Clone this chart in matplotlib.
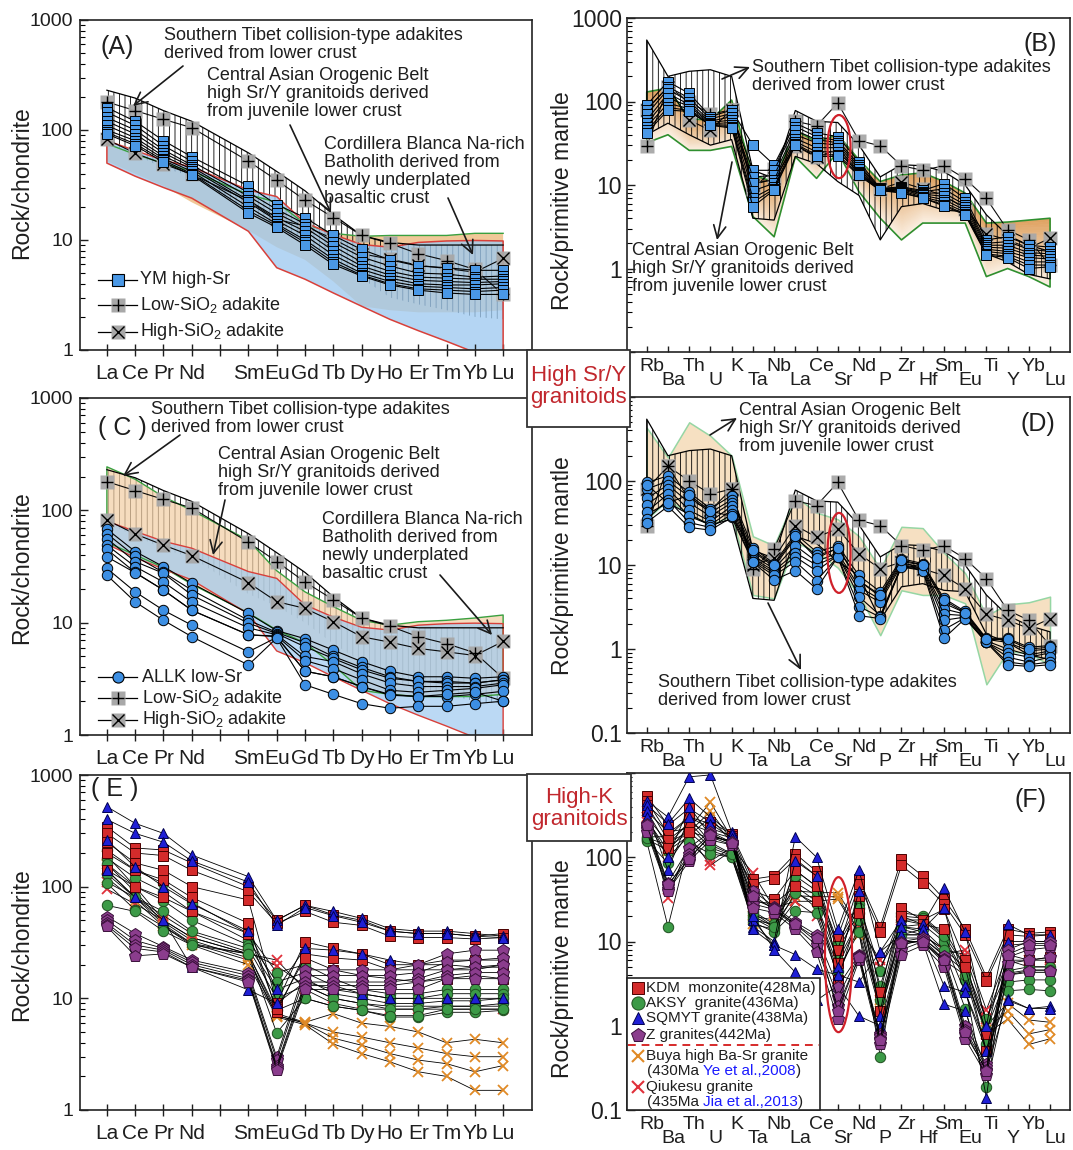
import numpy as np
import matplotlib
matplotlib.use("Agg")
import matplotlib.pyplot as plt
from matplotlib.lines import Line2D
from matplotlib.patches import Ellipse, Rectangle, FancyArrowPatch
from matplotlib.ticker import FixedLocator, FixedFormatter, LogLocator, NullFormatter
from matplotlib.transforms import ScaledTranslation

plt.rcParams['font.family'] = ['Liberation Sans', 'DejaVu Sans']
plt.rcParams['mathtext.fontset'] = 'custom'
plt.rcParams['mathtext.rm'] = 'Liberation Sans'
plt.rcParams['mathtext.it'] = 'Liberation Sans:italic'
plt.rcParams['hatch.linewidth'] = 0.6

# ------------------------------------------------------------------ elements
ree_ticks = ['La', 'Ce', 'Pr', 'Nd', '', 'Sm', 'Eu', 'Gd', 'Tb', 'Dy', 'Ho', 'Er', 'Tm', 'Yb', 'Lu']
ree_elements = [e for e in ree_ticks if e]
spider_elements = ['Rb', 'Ba', 'Th', 'U', 'K', 'Ta', 'Nb', 'La', 'Ce', 'Sr',
                   'Nd', 'P', 'Zr', 'Hf', 'Sm', 'Eu', 'Ti', 'Y', 'Yb', 'Lu']

# ------------------------------------------------ reference fields (REE, chondrite)
st_ree_upper = [230, 195, 150, 120, 62, 42, 28, 17, 11, 9.5, 9.0, 9.0, 9.0, 9.0]
st_ree_lower = [75, 60, 45, 38, 18, 14, 10, 6.5, 4.5, 3.0, 2.6, 2.3, 2.0, 1.9]
cb_ree_upper = [80, 65, 53, 46, 28.5, 24.8, 14.4, 11.2, 9.1, 8.6, 9.5, 9.8, 9.9, 9.8]
cb_ree_lower = [50, 38, 30, 24, 12, 5.6, 4.4, 3.3, 2.5, 1.9, 1.5, 1.2, 0.95, 0.8]
caob_ree_upper_a = [75, 60, 50, 42, 26, 22, 14, 11.5, 10.8, 11, 11, 11, 11.5, 11.5]
caob_ree_upper_c = [244, 189, 132, 100, 54, 29, 18.8, 13.9, 10.5, 9.5, 10.2, 10.5, 11, 11.7]
caob_ree_lower = [52, 40, 31, 22, 12.2, 8.6, 6.6, 4.2, 2.5, 2.3, 2.2, 2.2, 2.2, 2.3]

# ------------------------------------------ reference fields (primitive mantle)
st_pm_upper = [545, 200, 230, 240, 200, 15, 12, 78, 58, 56, 30, 12.5, 17.5, 17, 14.5, 10, 4.4, 2.5, 1.9, 1.6]
st_pm_lower = [40, 55, 40, 30, 35, 4.0, 3.8, 22, 18, 11, 7.5, 2.2, 5.5, 6.0, 5.0, 4.8, 1.5, 1.2, 0.85, 0.75]
caob_pm_upper_b = [130, 145, 62, 60, 104, 13, 11, 45, 33, 40, 20, 11, 13.2, 14, 11, 8, 3.5, 3.6, 3.8, 4.0]
caob_pm_lower_b = [32, 40, 26, 26, 29, 4.2, 2.4, 21.8, 12, 25, 8.3, 4.0, 2.2, 3.5, 3.5, 3.5, 0.8, 1.0, 0.8, 0.6]
caob_pm_upper_d = [430, 190, 500, 345, 200, 22, 17, 66, 42, 35, 22, 9, 28.5, 27.5, 14, 8, 2.5, 3.4, 3.6, 4.2]
caob_pm_lower_d = [35, 60, 40, 30, 39, 4.4, 4.0, 18.7, 14.3, 9.3, 4.4, 1.46, 5, 4.4, 4.4, 3.5, 0.38, 0.93, 0.9, 0.64]

# ------------------------------------------------------------ adakite averages
low_sio2_ree = [180, 150, 125, 105, 52, 35, 23, 16, 11, 9.3, 7.5, 6.5, 5.4, 3.2]
high_sio2_ree = [82, 61.5, 49, 39.5, 22.7, 15.4, 13.4, 10.2, 7.5, 6.7, 5.9, 5.5, 5.1, 6.8]
low_sio2_pm = [29, 150, 100, 70, 80, 9, 15.6, 58, 51, 96, 34, 29.5, 17, 15, 17, 11.9, 6.9, 2.9, 2.2, 1.1]
high_sio2_pm = [80, 150, 60, 45, 80, 10, 12, 29.5, 21.5, 27, 13.6, 9, 10.8, 9, 7.5, 5.2, 2.6, 2.2, 1.76, 2.3]

# --------------------------------------------------------------- YM high-Sr
ym_ree = [
    [160, 120, 80, 57, 31, 21, 16, 11, 8.2, 6.6, 5.8, 5.6, 5.3, 5.3],
    [145, 110, 72, 52, 27, 19, 14, 9.5, 7.0, 5.8, 5.0, 4.9, 4.6, 4.7],
    [130, 100, 66, 48, 25, 17.5, 13, 8.8, 6.3, 5.2, 4.6, 4.5, 4.4, 4.4],
    [120, 92, 62, 46, 23, 16, 12, 8.0, 5.8, 4.8, 4.3, 4.2, 4.1, 4.2],
    [110, 85, 58, 44, 22, 15, 11, 7.3, 5.4, 4.5, 4.0, 3.9, 3.9, 4.0],
    [100, 80, 55, 42, 20, 14, 10, 6.7, 5.0, 4.2, 3.8, 3.7, 3.6, 3.7],
    [95, 75, 53, 40, 18.5, 13.5, 9.5, 6.3, 4.8, 4.0, 3.6, 3.5, 3.4, 3.5],
    [92, 72, 51, 39, 17.6, 13, 9.0, 6.0, 4.7, 3.9, 3.5, 3.3, 3.2, 3.2],
]
ym_pm = [
    [91, 173, 125, 66, 79, 30, 17.4, 55, 42, 38, 19, 9.1, 9.5, 8.6, 10.4, 6.9, 2.2, 2.4, 1.9, 1.8],
    [80, 150, 110, 62, 72, 15, 15, 50, 38, 34, 17.5, 9.0, 9.3, 8.3, 9.0, 6.3, 2.0, 2.1, 1.7, 1.6],
    [70, 140, 100, 58, 66, 12.5, 13, 45, 35, 32, 16.5, 8.9, 9.1, 8.0, 8.0, 5.8, 1.9, 1.9, 1.55, 1.5],
    [60, 125, 92, 56, 60, 10.5, 11.5, 40, 32, 30, 15.5, 8.8, 9.0, 7.8, 7.3, 5.4, 1.8, 1.75, 1.45, 1.4],
    [55, 110, 88, 54, 56, 8.5, 10.5, 36, 28, 28, 14.5, 8.8, 8.8, 7.5, 6.7, 5.0, 1.7, 1.6, 1.35, 1.3],
    [50, 95, 82, 53, 52, 7.0, 9.5, 33, 25, 25, 14, 8.7, 8.5, 7.2, 6.2, 4.7, 1.6, 1.5, 1.2, 1.2],
    [45, 85, 78, 52, 50, 6.2, 9.0, 31, 23, 23, 13.5, 8.6, 8.2, 7.0, 5.8, 4.5, 1.5, 1.4, 1.1, 1.1],
    [42, 79, 76, 52, 48, 5.5, 8.7, 30, 22, 22, 13, 8.6, 8.0, 7.0, 5.6, 4.4, 1.45, 1.35, 1.0, 1.05],
]

# --------------------------------------------------------------- ALLK low-Sr
allk_ree = [
    [68, 43, 31.5, 22.4, 12.1, 8.5, 7.2, 5.7, 4.5, 3.7, 3.3, 3.3, 3.2, 3.3],
    [62, 39, 28, 19.5, 10.5, 8.2, 6.6, 5.0, 4.0, 3.3, 3.0, 3.0, 2.9, 3.1],
    [56, 35, 27.5, 17.6, 9.9, 8.0, 6.1, 4.8, 3.8, 3.2, 3.0, 2.9, 2.9, 3.1],
    [49, 31.5, 23, 15.3, 9.0, 7.8, 5.0, 4.5, 3.5, 2.9, 2.7, 2.7, 2.7, 2.9],
    [45, 28, 19.5, 12.9, 7.8, 7.6, 4.6, 3.9, 3.1, 2.5, 2.4, 2.5, 2.6, 2.8],
    [38.6, 27.8, 19.5, 12.9, 7.8, 7.5, 3.7, 3.3, 2.7, 2.3, 2.2, 2.2, 2.3, 2.45],
    [30.4, 18.8, 12.9, 9.5, 5.5, 7.4, 3.7, 3.3, 2.7, 2.26, 2.2, 2.3, 2.4, 2.0],
    [26.5, 15.3, 10.5, 7.5, 4.2, 7.3, 2.8, 2.3, 1.9, 1.73, 1.8, 1.8, 1.9, 2.0],
]
allk_pm = [
    [96, 115, 73, 47, 67, 16, 10.4, 23.5, 14.3, 17, 7.5, 4.8, 11.9, 10.4, 4.0, 2.8, 1.34, 1.34, 1.05, 1.1],
    [80, 100, 65, 42, 60, 14.5, 9.5, 21, 13, 15.5, 6.5, 4.2, 11, 10, 3.5, 2.7, 1.3, 1.2, 0.95, 1.0],
    [62, 90, 55, 38, 55, 13, 9, 17, 11, 14, 5.5, 3.9, 10.5, 9.5, 3.0, 2.6, 1.25, 1.0, 0.85, 0.95],
    [52, 80, 45, 33, 50, 12, 8.5, 14, 10, 13, 5.0, 3.6, 10, 9.2, 2.6, 2.5, 1.2, 0.9, 0.8, 0.9],
    [43, 70, 38, 30, 45, 11.5, 8, 12.5, 8.5, 13, 4.2, 2.5, 9.8, 9, 2.2, 2.4, 1.2, 0.8, 0.7, 0.8],
    [35, 60, 32, 28, 40, 11, 7.5, 11, 6.5, 12.5, 3.2, 2.4, 9.6, 8.8, 1.7, 2.35, 1.2, 0.7, 0.65, 0.7],
    [32, 50, 28, 26, 37, 10.8, 6.6, 8.6, 5.2, 12.5, 2.5, 2.3, 9.5, 8.6, 1.34, 2.3, 1.2, 0.65, 0.62, 0.65],
    [90, 55, 68, 44, 38, 15, 10, 22, 12, 16, 6.5, 4.4, 11.5, 10, 3.8, 2.7, 1.3, 1.3, 1.0, 1.05],
]

# ------------------------------------------------------ high-K granitoids, REE
kdm_ree = [
    [344, 222, 213, 163, 100, 50, 68, 56, 50, 40, 38, 38, 36, 38],
    [300, 200, 190, 140, 90, 47, 60, 48, 45, 36, 35, 35, 34, 35],
    [250, 163, 140, 100, 76, 9, 32, 28, 25, 20, 20, 22, 22, 22],
    [200, 140, 115, 80, 47, 7.5, 25, 23, 22, 18, 18, 18, 18, 20],
    [141, 100, 80, 60, 38, 8, 23, 18, 16, 15, 14, 15, 16, 15],
]
aksy_ree = [
    [213, 141, 107, 72, 38, 17, 20, 15, 12, 11, 11, 12, 12, 12],
    [180, 120, 90, 60, 33, 14, 17, 13, 11, 10, 10, 11, 11, 11],
    [160, 100, 75, 50, 30, 12, 15, 11, 10, 9, 9, 9.5, 9.5, 10],
    [130, 80, 60, 40, 28, 10, 13, 10, 9, 8, 8, 8.5, 8.5, 9],
    [107, 62, 44, 31, 25, 7.8, 10, 8.5, 7.8, 6.8, 6.8, 7.5, 7.5, 7.8],
    [68, 60, 40, 30, 25, 4.9, 10, 8.5, 7.8, 7, 7, 8, 8, 8],
]
sqmyt_ree = [
    [520, 369, 300, 192, 123, 50, 68, 60, 52, 42, 40, 40, 38, 36],
    [400, 300, 250, 170, 110, 45, 65, 55, 48, 40, 38, 38, 36, 35],
    [262, 150, 100, 70, 40, 12, 28, 27, 25, 22, 20, 20, 19, 19],
    [141, 80, 50, 19, 11.9, 9, 14, 12, 11, 10, 10, 10, 10, 10],
]
zgr_ree = [
    [54, 38, 29, 22, 17, 3.0, 18, 18, 18, 18, 20, 25, 27, 27],
    [50, 33, 28, 21, 16, 2.8, 16, 16, 16, 16, 17, 21, 22, 23],
    [47, 30, 27, 20, 15, 2.5, 14, 14, 14, 14, 15, 18, 19, 20],
    [45, 28, 26, 19, 14.5, 2.4, 13, 13, 13, 13, 14, 16, 17, 17],
    [44, 24, 25, 19, 14, 2.3, 12, 12, 12, 12, 12, 15, 15, 15],
]
buya_ree = [
    [190, 100, 50, 35, 25, 7.3, 6.1, 7.3, 6.0, 5.6, 5.0, 4.0, 4.3, 4.0],
    [160, 90, 48, 33, 23, 7.0, 6.0, 5.0, 4.5, 4.0, 3.6, 3.2, 3.0, 3.0],
    [140, 80, 46, 31, 22, 7.0, 6.0, 4.4, 3.8, 3.2, 2.8, 2.6, 2.2, 2.5],
    [120, 75, 44, 30, 20, 6.8, 5.8, 3.9, 3.2, 2.7, 2.2, 2.0, 1.5, 1.5],
]
qiukesu_ree = [
    [95, 70, 50, 35, 25, 22, 12, 9, 8, 8, 8, 8, 8, 8],
    [110, 80, 55, 38, 26, 19.5, 13, 10, 9, 8.5, 8.5, 8.5, 8.5, 8.5],
]

# ------------------------------------------ high-K granitoids, primitive mantle
kdm_pm = [
    [540, 240, 380, 260, 190, 55, 60, 110, 68, 11.5, 55, 15, 95, 60, 32, 14, 3.8, 14, 12.5, 13],
    [470, 190, 300, 220, 180, 48, 55, 95, 60, 8, 48, 13, 80, 50, 28, 12, 3.4, 12, 11.5, 12],
    [420, 160, 250, 200, 170, 40, 32, 70, 45, 5.5, 35, 2.5, 25, 18, 24, 6, 0.8, 9, 9.5, 9.5],
    [360, 130, 200, 170, 160, 30, 28, 45, 30, 3.5, 22, 1.5, 20, 16, 14, 5, 0.5, 6, 6, 6.5],
]
aksy_pm = [
    [175, 175, 300, 150, 110, 23, 16, 70, 45, 10, 28, 4.5, 22, 20, 12, 5, 1.2, 4.5, 5, 5],
    [165, 120, 230, 130, 105, 20, 15, 50, 35, 8, 22, 3, 18, 18, 11, 3.5, 0.9, 4, 4.3, 4.3],
    [160, 85, 200, 120, 100, 19, 14, 38, 28, 6, 18, 1.5, 15, 16, 10, 2.5, 0.6, 3.3, 3.5, 3.5],
    [155, 15, 150, 110, 100, 17, 13, 23, 22, 4.5, 13, 0.43, 12, 14, 8, 1.6, 0.19, 2.6, 2.7, 2.6],
    [170, 140, 260, 140, 108, 22, 15, 60, 40, 9, 25, 2, 20, 19, 11.5, 4, 0.5, 4.2, 4.6, 4.6],
]
sqmyt_pm = [
    [470, 300, 900, 950, 200, 15, 10, 175, 100, 14, 70, 7.6, 18, 16, 43, 13, 1.0, 16, 12, 12],
    [420, 250, 500, 300, 190, 18, 9, 90, 60, 5, 40, 1.3, 15, 14, 25, 3, 0.14, 10, 10, 10],
    [350, 70, 300, 250, 170, 14, 9, 7, 4.7, 4, 3.3, 7.6, 12, 12, 3, 2.5, 0.5, 2.1, 1.6, 1.7],
    [300, 100, 400, 180, 150, 20, 8, 4.3, 2.0, 3, 1.3, 1.0, 10, 10, 1.8, 1.5, 0.3, 2.0, 1.6, 1.6],
]
zgr_pm = [
    [250, 50, 130, 200, 150, 40, 26, 17, 12, 2.9, 7, 0.8, 10, 11, 6.8, 1.0, 0.35, 8, 10, 10],
    [230, 45, 110, 190, 145, 32, 25, 16, 10, 2.2, 6.8, 0.75, 9, 10.5, 6.2, 0.9, 0.32, 6.5, 8, 8.5],
    [215, 42, 100, 175, 140, 28, 24, 15, 9, 1.7, 6.5, 0.7, 8, 10, 5.6, 0.8, 0.3, 5.5, 6, 6.5],
    [200, 40, 90, 160, 140, 25, 22, 14, 7.5, 1.2, 6.0, 0.6, 7, 9, 5, 0.7, 0.26, 4, 4.5, 4.5],
    [240, 48, 95, 185, 148, 35, 24, 16, 11, 1.5, 6.6, 0.68, 9.5, 10, 6, 0.85, 0.29, 7, 9, 9],
]
buya_pm = [
    [350, 200, 220, 450, 170, 20, 18, 40, 38, 38, 15, 2, 12, 12, 8, 5, 1.0, 1.85, 1.17, 1.1],
    [300, 150, 200, 350, 160, 18, 16, 35, 34, 34, 13, 1.8, 11, 11, 7, 4.5, 0.9, 1.5, 0.8, 0.9],
    [280, 120, 180, 300, 150, 16, 14, 30, 30, 32, 12, 1.5, 10, 10, 6, 4, 0.8, 1.2, 0.6, 0.7],
]
qiukesu_pm = [
    [300, 33, 150, 90, 130, 65, 25, 30, 20, 4, 15, 6, 15, 13, 7, 8, 1.55, 7, 6, 6],
    [260, 100, 180, 80, 120, 50, 22, 40, 25, 5, 18, 5, 14, 12, 8, 7, 1.2, 6, 5, 5],
]

# ------------------------------------------------------------------- styling
W, H = 1073, 1150
BLUE_SQ = '#4a98e6'
BLUE_CI = '#3d8fe3'
GRAY = '#a8a8a8'
TAN = '#f0c898'
LBLUE = '#9fcaf0'
RED_LINE = '#d8403a'
GREEN_LINE = '#3aa040'
TXT = '#1e1e1e'

fig = plt.figure(figsize=(W / 100, H / 100), dpi=100)


def fx(x):
    return x / W


def fy(y):
    return 1 - y / H


def rect(l, t, r, b):
    return [l / W, 1 - b / H, (r - l) / W, (b - t) / H]


axA = fig.add_axes(rect(80, 20, 532, 350))
axB = fig.add_axes(rect(627, 18, 1070, 352))
axC = fig.add_axes(rect(80, 398, 532, 735))
axD = fig.add_axes(rect(627, 397, 1070, 733))
axE = fig.add_axes(rect(80, 775, 532, 1110))
axF = fig.add_axes(rect(627, 773, 1070, 1110))

ree_x = [ree_ticks.index(e) for e in ree_elements]
pm_x = list(range(len(spider_elements)))


def log_yaxis(ax, lo, hi, size, pad, hidden=()):
    ax.set_yscale('log')
    ax.set_ylim(lo, hi)
    majors = [v for v in [0.1, 1, 10, 100, 1000] if lo <= v <= hi]
    ax.yaxis.set_major_locator(FixedLocator(majors))
    ax.yaxis.set_major_formatter(FixedFormatter(['' if v in hidden else f'{v:g}' for v in majors]))
    ax.yaxis.set_minor_locator(LogLocator(base=10, subs=np.arange(2, 10), numticks=20))
    ax.yaxis.set_minor_formatter(NullFormatter())
    ax.tick_params(axis='y', which='major', direction='in', length=6, width=1,
                   pad=pad, labelsize=size, colors=TXT)
    ax.tick_params(axis='y', which='minor', direction='in', length=3.5, width=0.8)
    for sp in ax.spines.values():
        sp.set_linewidth(1.2)
        sp.set_color('#222222')


def style_ree(ax):
    log_yaxis(ax, 1, 1000, 14, 5)
    ax.set_xlim(-0.95, 15.02)
    ax.set_xticks(range(len(ree_ticks)))
    ax.set_xticklabels(ree_ticks)
    ax.tick_params(axis='x', direction='inout', length=8, width=1, pad=6,
                   labelsize=15, colors=TXT)


def style_spider(ax, hidden=()):
    log_yaxis(ax, 0.1, 1000, 16.5, 3.5, hidden)
    ax.set_xlim(-0.93, 19.94)
    ax.set_xticks(pm_x[0::2])
    ax.set_xticklabels(spider_elements[0::2])
    ax.set_xticks(pm_x[1::2], minor=True)
    ax.set_xticklabels(spider_elements[1::2], minor=True)
    ax.tick_params(axis='x', which='major', direction='in', length=4, width=1,
                   pad=4, labelsize=14, colors=TXT)
    ax.tick_params(axis='x', which='minor', direction='in', length=4, width=1,
                   pad=14.5, labelsize=14, colors=TXT)
    shift = ScaledTranslation(5 / 100, 0, fig.dpi_scale_trans)
    for lab in ax.get_xticklabels(which='both'):
        lab.set_transform(lab.get_transform() + shift)


def gradient_field(ax, x, lo, hi, c_lo, c_hi, n=24, z=1):
    lo = np.log10(lo)
    hi = np.log10(hi)
    c_lo = np.array(matplotlib.colors.to_rgb(c_lo))
    c_hi = np.array(matplotlib.colors.to_rgb(c_hi))
    for k in range(n):
        t0, t1 = k / n, (k + 1) / n
        tm = (t0 + t1) / 2
        col = c_lo * (1 - tm) + c_hi * tm
        ax.fill_between(x, 10 ** (lo + (hi - lo) * t0), 10 ** (lo + (hi - lo) * t1),
                        facecolor=col, edgecolor=col, lw=0.4, zorder=z)


def adakites(ax, x, low, high):
    for vals, sym in ((low, '+'), (high, 'x')):
        ax.plot(x, vals, color='k', lw=0.8, marker='s', ms=10.5, mfc=GRAY,
                mec='none', alpha=0.95, zorder=4)
        ax.plot(x, vals, ls='none', marker=sym, ms=8.5, mec='k', mew=1.0, zorder=4.1)


def samples(ax, x, rows, marker, ms, fc, ec='k', mew=0.7, lw=0.6, z=5):
    for r in rows:
        ax.plot(x, r, color='k', lw=lw, marker=marker, ms=ms, mfc=fc, mec=ec,
                mew=mew, zorder=z)


def cross_samples(ax, x, rows, color, ms=7, z=5):
    for r in rows:
        ax.plot(x, r, color='k', lw=0.6, marker='x', ms=ms, mec=color, mew=1.3, zorder=z)


# ------------------------------------------------------------------ panel A
axA.fill_between(ree_x, caob_ree_lower, caob_ree_upper_a, facecolor=TAN,
                 edgecolor='none', zorder=1)
axA.fill_between(ree_x, st_ree_lower, st_ree_upper, facecolor='none', edgecolor='k',
                 hatch='|||', lw=0, zorder=1.2)
axA.fill_between(ree_x, cb_ree_lower, cb_ree_upper, facecolor=LBLUE, alpha=0.78,
                 edgecolor='none', zorder=1.4)
axA.plot(ree_x, caob_ree_upper_a, color=GREEN_LINE, lw=1.0, zorder=1.5)
axA.fill_between(ree_x, cb_ree_lower, cb_ree_upper, facecolor='none',
                 edgecolor=RED_LINE, lw=1.1, zorder=1.6)
axA.plot(ree_x, st_ree_upper, color='k', lw=0.9, zorder=1.7)
adakites(axA, ree_x, low_sio2_ree, high_sio2_ree)
samples(axA, ree_x, ym_ree, 's', 7.5, BLUE_SQ, lw=0.8)
style_ree(axA)

# ------------------------------------------------------------------ panel C
axC.fill_between(ree_x, st_ree_lower, st_ree_upper, facecolor='none', edgecolor='k',
                 hatch='|||', lw=0, zorder=1)
axC.fill_between(ree_x, caob_ree_lower, caob_ree_upper_c, facecolor='#f3cfa5',
                 alpha=0.72, edgecolor='none', zorder=1.2)
axC.fill_between(ree_x, cb_ree_lower, cb_ree_upper, facecolor=LBLUE, alpha=0.7,
                 edgecolor='none', zorder=1.4)
axC.fill_between(ree_x, caob_ree_lower, caob_ree_upper_c, facecolor='none',
                 edgecolor=GREEN_LINE, lw=1.0, zorder=1.5)
axC.fill_between(ree_x, cb_ree_lower, cb_ree_upper, facecolor='none',
                 edgecolor=RED_LINE, lw=1.0, zorder=1.6)
axC.plot(ree_x, st_ree_upper, color='k', lw=0.9, zorder=1.7)
adakites(axC, ree_x, low_sio2_ree, high_sio2_ree)
samples(axC, ree_x, allk_ree, 'o', 7.5, BLUE_CI, lw=0.8)
style_ree(axC)

# ------------------------------------------------------------------ panel E
cross_samples(axE, ree_x, buya_ree, '#e08a26')
cross_samples(axE, ree_x, qiukesu_ree, '#e0303a')
samples(axE, ree_x, aksy_ree, 'o', 7.5, '#3c9a47', ec='#1f4f1f')
samples(axE, ree_x, kdm_ree, 's', 7.5, '#d42b2b', ec='#4a0000')
samples(axE, ree_x, sqmyt_ree, '^', 6.5, '#1f1fd6', ec='#000050')
samples(axE, ree_x, zgr_ree, 'p', 9, '#8b3d8d', ec='#3a103a')
style_ree(axE)

# ------------------------------------------------------------------ panel B
gradient_field(axB, pm_x, caob_pm_lower_b, caob_pm_upper_b, '#fcf2e6', '#dfa261', z=1)
axB.fill_between(pm_x, caob_pm_lower_b, caob_pm_upper_b, facecolor='none',
                 edgecolor='#2f8f2f', lw=1.2, zorder=1.3)
axB.fill_between(pm_x, st_pm_lower, st_pm_upper, facecolor='none', edgecolor='k',
                 hatch='|||', lw=0.9, zorder=1.5)
adakites(axB, pm_x, low_sio2_pm, high_sio2_pm)
samples(axB, pm_x, ym_pm, 's', 7.5, BLUE_SQ, lw=0.8)
style_spider(axB, hidden=(0.1,))
axB.add_patch(Ellipse((0.4786, 0.615), 0.052, 0.189, transform=axB.transAxes,
                      facecolor='none', edgecolor='#d0202a', lw=1.6, zorder=6))

# ------------------------------------------------------------------ panel D
axD.fill_between(pm_x, caob_pm_lower_d, caob_pm_upper_d, facecolor='#f6e0c2',
                 edgecolor='#96d6a4', lw=1.1, zorder=1)
axD.fill_between(pm_x, st_pm_lower, st_pm_upper, facecolor='none', edgecolor='k',
                 hatch='|||', lw=0.9, zorder=1.5)
adakites(axD, pm_x, low_sio2_pm, high_sio2_pm)
samples(axD, pm_x, allk_pm, 'o', 7.5, BLUE_CI, lw=0.8)
style_spider(axD, hidden=(1000,))
axD.add_patch(Ellipse((0.4786, 0.536), 0.052, 0.238, transform=axD.transAxes,
                      facecolor='none', edgecolor='#d0202a', lw=1.6, zorder=6))

# ------------------------------------------------------------------ panel F
cross_samples(axF, pm_x, buya_pm, '#e08a26')
cross_samples(axF, pm_x, qiukesu_pm, '#e0303a')
samples(axF, pm_x, aksy_pm, 'o', 7.5, '#3c9a47', ec='#1f4f1f')
samples(axF, pm_x, kdm_pm, 's', 7.5, '#d42b2b', ec='#4a0000')
samples(axF, pm_x, sqmyt_pm, '^', 6.5, '#1f1fd6', ec='#000050')
samples(axF, pm_x, zgr_pm, 'p', 9, '#8b3d8d', ec='#3a103a')
style_spider(axF, hidden=(1000,))
axF.add_patch(Ellipse((0.4774, 0.461), 0.061, 0.46, transform=axF.transAxes,
                      facecolor='none', edgecolor='#d0202a', lw=1.6, zorder=6))

# ------------------------------------------------------------- axis titles
for (x, y), lab in [((22, 183), 'Rock/chondrite'), ((22, 568), 'Rock/chondrite'),
                    ((22, 945), 'Rock/chondrite'), ((563, 201), 'Rock/primitive mantle'),
                    ((563, 566), 'Rock/primitive mantle'), ((563, 969), 'Rock/primitive mantle')]:
    fig.text(fx(x), fy(y), lab, rotation=90, ha='center', va='center',
             fontsize=16.5, color=TXT)

# ------------------------------------------------------------ panel letters
for (x, y), lab in [((117, 47), '(A)'), ((1040, 44), '(B)'), ((122, 428), '( C )'),
                    ((1038, 424), '(D)'), ((115, 789), '( E )'), ((1031, 800), '(F)')]:
    fig.text(fx(x), fy(y), lab, ha='center', va='center', fontsize=18, color=TXT)

# ------------------------------------------------------------ annotations
ST_TXT = 'Southern Tibet collision-type adakites\nderived from lower crust'
CAOB_TXT = 'Central Asian Orogenic Belt\nhigh Sr/Y granitoids derived\nfrom juvenile lower crust'
CB_TXT = 'Cordillera Blanca Na-rich\nBatholith derived from\nnewly underplated\nbasaltic crust'


def note(x, y, txt):
    fig.text(fx(x), fy(y), txt, ha='left', va='top', fontsize=13, color=TXT,
             linespacing=1.08, zorder=8)


def arrow(x0, y0, x1, y1):
    fig.add_artist(FancyArrowPatch((fx(x0), fy(y0)), (fx(x1), fy(y1)),
                                   transform=fig.transFigure,
                                   arrowstyle='->,head_length=0.45,head_width=0.22',
                                   mutation_scale=20, lw=1.2, color='#1a1a1a',
                                   shrinkA=0, shrinkB=0, zorder=8))


note(164, 27, ST_TXT)
arrow(183, 66, 133, 106)
note(207, 67, CAOB_TXT)
arrow(290, 125, 331, 213)
note(324, 136, CB_TXT)
arrow(448, 198, 473, 255)

note(752, 59, ST_TXT)
arrow(722, 79, 750, 67)
note(632, 242, CAOB_TXT)
arrow(732, 162, 717, 240)

note(151, 401, ST_TXT)
arrow(180, 435, 123, 476)
note(218, 446, CAOB_TXT)
arrow(225, 500, 213, 555)
note(322, 511, CB_TXT)
arrow(440, 575, 492, 635)

note(739, 402, CAOB_TXT)
arrow(710, 435, 737, 418)
note(658, 674, ST_TXT)
arrow(768, 603, 801, 670)

# ---------------------------------------------------------------- legends


def legend_row(y, handles, text, x0=98, x1=137, tx=140, fs=13):
    fig.add_artist(Line2D([fx(x0), fx(x1)], [fy(y), fy(y)], color='k', lw=0.9,
                          transform=fig.transFigure, zorder=8))
    for kw in handles:
        fig.add_artist(Line2D([fx((x0 + x1) / 2)], [fy(y)], ls='none',
                              transform=fig.transFigure, zorder=8, **kw))
    fig.text(fx(tx), fy(y), text, fontsize=fs, va='center', ha='left', color=TXT, zorder=8)


low_h = [dict(marker='s', ms=10.5, mfc=GRAY, mec='none'),
         dict(marker='+', ms=8.5, mec='k', mew=1.0)]
high_h = [dict(marker='s', ms=10.5, mfc=GRAY, mec='none'),
          dict(marker='x', ms=8.5, mec='k', mew=1.0)]

legend_row(280, [dict(marker='s', ms=8, mfc=BLUE_SQ, mec='k', mew=0.8)], 'YM high-Sr')
legend_row(305, low_h, r'Low-SiO$_2$ adakite')
legend_row(332, high_h, r'High-SiO$_2$ adakite')

legend_row(677, [dict(marker='o', ms=8, mfc=BLUE_CI, mec='k', mew=0.8)], 'ALLK low-Sr', tx=142)
legend_row(698, low_h, r'Low-SiO$_2$ adakite', tx=142)
legend_row(720, high_h, r'High-SiO$_2$ adakite', tx=142)

# high-K legend box
fig.add_artist(Rectangle((fx(627), fy(1110)), (820 - 627) / W, (1110 - 978) / H,
                         transform=fig.transFigure, facecolor='white',
                         edgecolor='#222222', lw=1.2, zorder=7))
fig.add_artist(Line2D([fx(628), fx(819)], [fy(1045), fy(1045)], color='#d62a2a',
                      lw=1.4, ls=(0, (4, 3)), transform=fig.transFigure, zorder=8))
leg_marks = [
    (988, dict(marker='s', ms=9, mfc='#d42b2b', mec='#4a0000', mew=0.7)),
    (1003, dict(marker='o', ms=9.5, mfc='#3c9a47', mec='#1f4f1f', mew=0.7)),
    (1018, dict(marker='^', ms=8.5, mfc='#1f1fd6', mec='#000050', mew=0.7)),
    (1035, dict(marker='p', ms=10, mfc='#8b3d8d', mec='#3a103a', mew=0.7)),
    (1056, dict(marker='x', ms=8, mec='#e08a26', mew=1.5)),
    (1087, dict(marker='x', ms=8, mec='#e0303a', mew=1.5)),
]
for y, kw in leg_marks:
    fig.add_artist(Line2D([fx(638)], [fy(y)], ls='none', transform=fig.transFigure,
                          zorder=9, **kw))
for y, t in [(988, 'KDM  monzonite(428Ma)'), (1003, 'AKSY  granite(436Ma)'),
             (1018, 'SQMYT granite(438Ma)'), (1035, 'Z granites(442Ma)'),
             (1056, 'Buya high Ba-Sr granite'), (1087, 'Qiukesu granite')]:
    fig.text(fx(646), fy(y), t, fontsize=11, ha='left', va='center', color=TXT, zorder=9)

renderer = fig.canvas.get_renderer()
for y, age, ref in [(1071, '(430Ma ', 'Ye et al.,2008'), (1102, '(435Ma ', 'Jia et al.,2013')]:
    t1 = fig.text(fx(647), fy(y), age, fontsize=11, ha='left', va='center', color=TXT, zorder=9)
    x_end = t1.get_window_extent(renderer).x1
    t2 = fig.text(x_end / W, fy(y), ref, fontsize=11, ha='left', va='center',
                  color='#1a1aff', zorder=9)
    x_end2 = t2.get_window_extent(renderer).x1
    fig.text(x_end2 / W, fy(y), ')', fontsize=11, ha='left', va='center', color=TXT, zorder=9)

# ------------------------------------------------------------ centre boxes
for (l, t, r, b), lines, ys in [((527, 350, 630, 427), ['High Sr/Y', 'granitoids'], (375, 398)),
                                ((527, 774, 631, 841), ['High-K', 'granitoids'], (797, 820))]:
    fig.add_artist(Rectangle((fx(l), fy(b)), (r - l) / W, (b - t) / H,
                             transform=fig.transFigure, facecolor='white',
                             edgecolor='#333333', lw=1.3, zorder=7))
    for txt, yy in zip(lines, ys):
        fig.text(fx((l + r) / 2), fy(yy), txt, ha='center', va='center', fontsize=16,
                 color='#c1272d', zorder=9)

fig.savefig('out.png', dpi=100)
